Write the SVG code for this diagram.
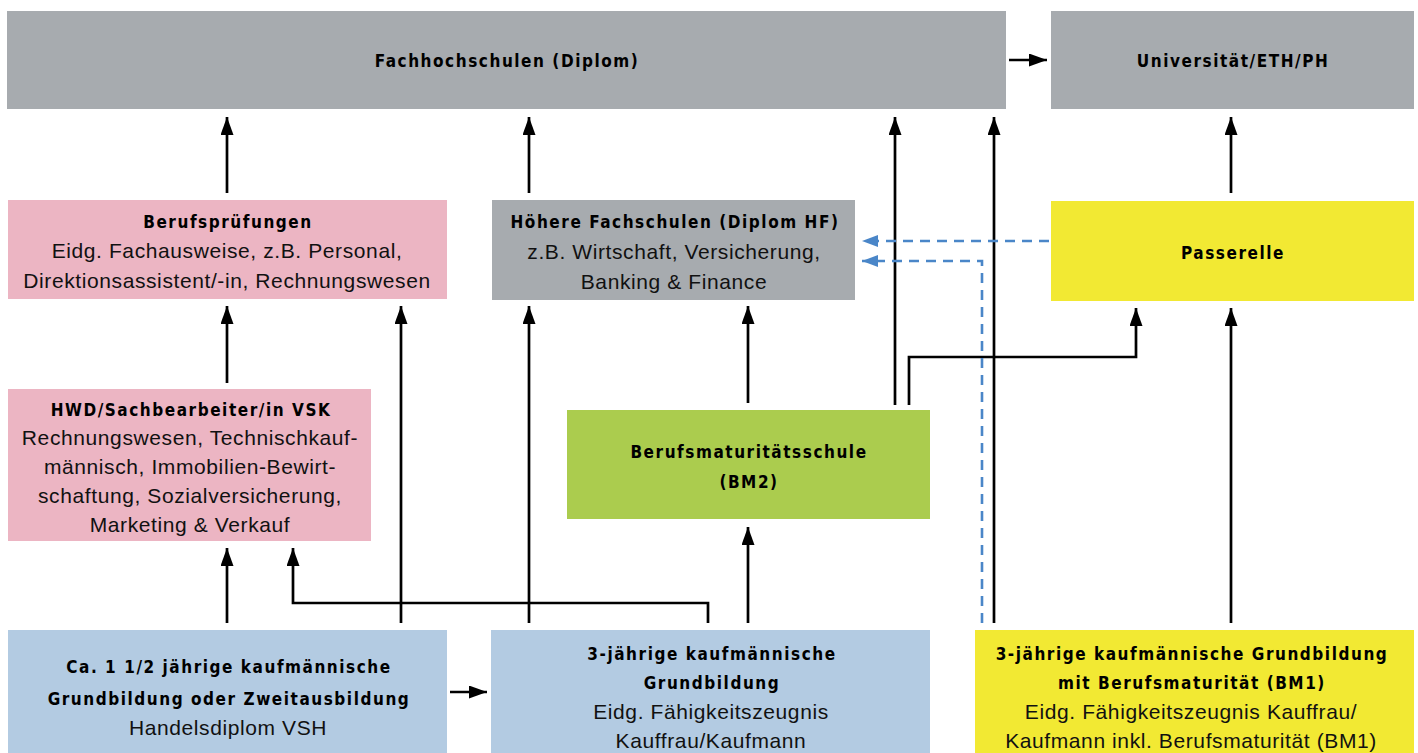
<svg xmlns="http://www.w3.org/2000/svg" width="1418" height="753" viewBox="0 0 1418 753">
<style>
.b{font-family:"DejaVu Sans Condensed","Liberation Sans",Arial,sans-serif;font-weight:bold;font-size:17px;letter-spacing:1.55px;fill:#000;text-anchor:middle}
.r{font-family:"Liberation Sans",Arial,sans-serif;font-size:21px;letter-spacing:0.6px;fill:#111;text-anchor:middle}
.gray{fill:#a7abaf}.pink{fill:#ecb5c3}.green{fill:#abcc4e}.yellow{fill:#f2e933}.blue{fill:#b3cbe2}
.c{fill:none;stroke:#000;stroke-width:2.7}
.d{fill:none;stroke:#4a86c8;stroke-width:2.6;stroke-dasharray:10 7}
</style>
<defs>
<marker id="ah" markerUnits="userSpaceOnUse" markerWidth="18" markerHeight="14" refX="18" refY="6.5" orient="auto"><path d="M0,0 L18,6.5 L0,13 z" fill="#000"/></marker>
<marker id="ahb" markerUnits="userSpaceOnUse" markerWidth="16" markerHeight="14" refX="16" refY="6" orient="auto"><path d="M0,0 L16,6 L0,12 z" fill="#4a86c8"/></marker>
</defs>
<rect width="1418" height="753" fill="#fff"/>
<g id="fh"><rect class="gray" x="7" y="11" width="999" height="98"/><text class="b" x="507" y="67">Fachhochschulen (Diplom)</text></g>
<g id="uni"><rect class="gray" x="1051" y="11" width="363" height="98"/><text class="b" x="1233" y="67">Universität/ETH/PH</text></g>
<g id="bp"><rect class="pink" x="8" y="200" width="439" height="99"/><text class="b" x="228" y="228">Berufsprüfungen</text><text class="r" x="227" y="258">Eidg. Fachausweise, z.B. Personal,</text><text class="r" x="227" y="288">Direktionsassistent/-in, Rechnungswesen</text></g>
<g id="hf"><rect class="gray" x="492" y="200" width="363" height="100"/><text class="b" x="675" y="228">Höhere Fachschulen (Diplom HF)</text><text class="r" x="674" y="259">z.B. Wirtschaft, Versicherung,</text><text class="r" x="674" y="289">Banking &amp; Finance</text></g>
<g id="pas"><rect class="yellow" x="1051" y="201" width="363" height="100"/><text class="b" x="1233" y="259">Passerelle</text></g>
<g id="hwd"><rect class="pink" x="8" y="389" width="363" height="152"/><text class="b" x="191" y="416">HWD/Sachbearbeiter/in VSK</text><text class="r" x="190" y="445">Rechnungswesen, Technischkauf-</text><text class="r" x="190" y="474">männisch, Immobilien-Bewirt-</text><text class="r" x="190" y="503">schaftung, Sozialversicherung,</text><text class="r" x="190" y="532">Marketing &amp; Verkauf</text></g>
<g id="bms"><rect class="green" x="567" y="410" width="363" height="109"/><text class="b" x="749" y="458">Berufsmaturitätsschule</text><text class="b" x="749" y="488">(BM2)</text></g>
<g id="ca"><rect class="blue" x="8" y="630" width="439" height="123"/><text class="b" x="229" y="673">Ca. 1 1/2 jährige kaufmännische</text><text class="b" x="229" y="705">Grundbildung oder Zweitausbildung</text><text class="r" x="228" y="735">Handelsdiplom VSH</text></g>
<g id="kg"><rect class="blue" x="491" y="630" width="439" height="123"/><text class="b" x="712" y="660">3-jährige kaufmännische</text><text class="b" x="712" y="689">Grundbildung</text><text class="r" x="711" y="719">Eidg. Fähigkeitszeugnis</text><text class="r" x="711" y="748">Kauffrau/Kaufmann</text></g>
<g id="bm1"><rect class="yellow" x="975" y="630" width="439" height="123"/><text class="b" x="1192" y="660">3-jährige kaufmännische Grundbildung</text><text class="b" x="1192" y="689">mit Berufsmaturität (BM1)</text><text class="r" x="1191" y="719">Eidg. Fähigkeitszeugnis Kauffrau/</text><text class="r" x="1191" y="748">Kaufmann inkl. Berufsmaturität (BM1)</text></g>
<g id="connectors">
<path class="c" marker-end="url(#ah)" d="M1009,60 H1047"/>
<path class="c" marker-end="url(#ah)" d="M227,193 V117"/>
<path class="c" marker-end="url(#ah)" d="M529,193 V117"/>
<path class="c" marker-end="url(#ah)" d="M895,405 V117"/>
<path class="c" marker-end="url(#ah)" d="M994,623 V117"/>
<path class="c" marker-end="url(#ah)" d="M1231,193 V117"/>
<path class="c" marker-end="url(#ah)" d="M227,383 V306"/>
<path class="c" marker-end="url(#ah)" d="M401,623 V306"/>
<path class="c" marker-end="url(#ah)" d="M529,623 V306"/>
<path class="c" marker-end="url(#ah)" d="M748,403 V306"/>
<path class="c" marker-end="url(#ah)" d="M909,405 V357 H1136 V308"/>
<path class="c" marker-end="url(#ah)" d="M1231,623 V308"/>
<path class="c" marker-end="url(#ah)" d="M748,623 V527"/>
<path class="c" marker-end="url(#ah)" d="M227,623 V548"/>
<path class="c" marker-end="url(#ah)" d="M708,623 V603 H293 V548"/>
<path class="c" marker-end="url(#ah)" d="M450,692 H487"/>
<path class="d" marker-end="url(#ahb)" d="M1049,241 H862"/>
<path class="d" marker-end="url(#ahb)" d="M982,623 V261 H862"/>
</g>
</svg>
